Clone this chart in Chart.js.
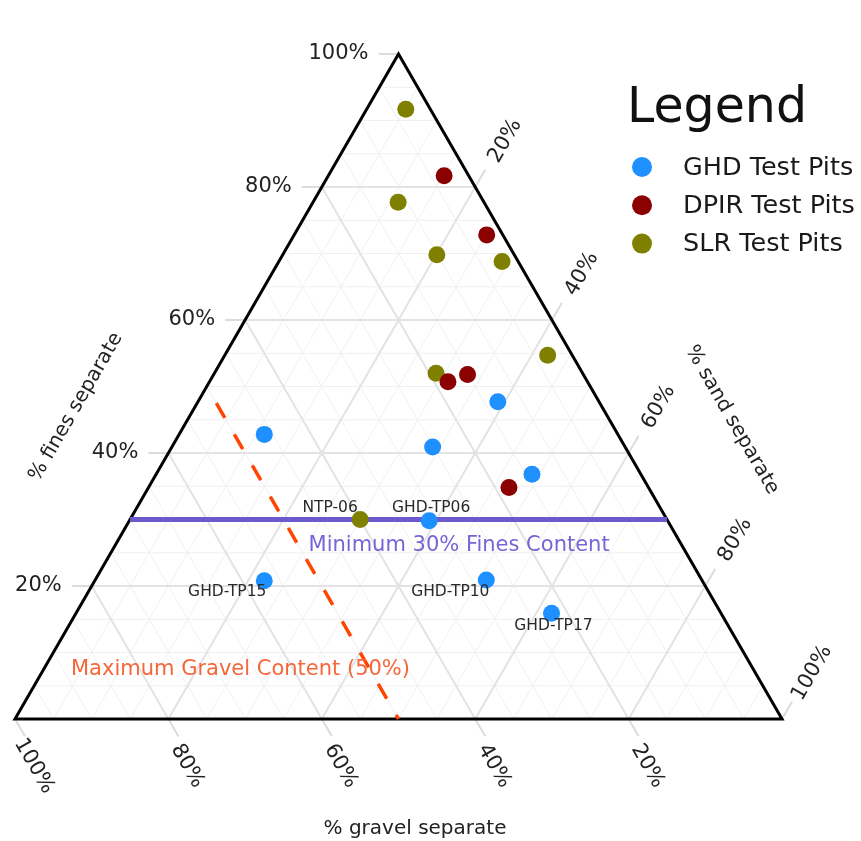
<!DOCTYPE html>
<html>
<head>
<meta charset="utf-8">
<script src="https://cdn.jsdelivr.net/npm/chart.js@4.4.1/dist/chart.umd.min.js"></script>
<style>
  html, body { margin: 0; padding: 0; background: #fff; }
  #c { display: block; }
</style>
</head>
<body>
<canvas id="c" width="861" height="841"></canvas>
<script>
// ternary values in percent (gravel + sand + fines = 100)
const ghdGravel = [46.1, 13.2, 25.1, 14.2, 31.1, 57.1, 28.1, 22.1];
const ghdSand   = [11.1, 39.1, 34.0, 49.0, 39.1, 22.1, 51.0, 62.0];
const ghdFines  = [42.8, 47.7, 40.9, 36.8, 29.8, 20.8, 20.9, 15.9];
const ghdNames  = ['', '', '', '', 'GHD-TP06', 'GHD-TP15', 'GHD-TP10', 'GHD-TP17'];

const dpirGravel = [3.2, 2.1, 18.2, 15.1, 18.2];
const dpirSand   = [15.1, 25.1, 31.1, 33.1, 47.0];
const dpirFines  = [81.7, 72.8, 50.7, 51.8, 34.8];
const dpirNames  = ['', '', '', '', ''];

const slrGravel = [3.2, 11.2, 10.1, 2.1, 3.2, 19.1, 40.0];
const slrSand   = [5.1, 11.1, 20.1, 29.1, 42.1, 28.9, 30.0];
const slrFines  = [91.7, 77.7, 69.8, 68.8, 54.7, 52.0, 30.0];
const slrNames  = ['', '', '', '', '', '', 'NTP-06'];

const tickValues = [20, 40, 60, 80, 100];
const minFines = 30;      // horizontal reference line
const maxGravel = 50;     // dashed reference line
const maxGravelTopFines = 47.5;

const COLORS = { GHD: '#1e90ff', DPIR: '#8b0000', SLR: '#808000' };

// sand/fines -> cartesian (x across the base, y = fines)
function toXY(sand, fines) {
  return { x: (sand + fines / 2) / 100, y: fines / 100 };
}

function series(sand, fines, names) {
  return sand.map((s, i) => ({ ...toXY(s, fines[i]), name: names[i] }));
}

const minFinesLine = [
  toXY(0, minFines),
  toXY(100 - minFines, minFines)
];
const maxGravelLine = [
  toXY(100 - maxGravel - maxGravelTopFines, maxGravelTopFines),
  toXY(100 - maxGravel, 0)
];

const labelOffsets = {
  'NTP-06':   [-30, -12],
  'GHD-TP06': [2, -13],
  'GHD-TP15': [-37, 11],
  'GHD-TP10': [-36, 12],
  'GHD-TP17': [2, 13]
};

const FONT = '"DejaVu Sans", Verdana, sans-serif';

const ternaryPlugin = {
  id: 'ternary',
  beforeDatasetsDraw(chart) {
    const { ctx, scales: { x, y } } = chart;
    const P = (s, f) => { const p = toXY(s, f); return [x.getPixelForValue(p.x), y.getPixelForValue(p.y)]; };
    const seg = (a, b) => { ctx.beginPath(); ctx.moveTo(a[0], a[1]); ctx.lineTo(b[0], b[1]); ctx.stroke(); };

    ctx.save();
    // minor first, major on top
    [false, true].forEach(major => {
      ctx.strokeStyle = major ? '#e3e3e3' : '#f0f0f0';
      ctx.lineWidth = major ? 2 : 1;
      for (let v = 5; v < 100; v += 5) {
        if ((v % 20 === 0) !== major) continue;
        seg(P(0, v), P(100 - v, v));          // fines
        seg(P(v, 0), P(v, 100 - v));          // sand
        seg(P(100 - v, 0), P(0, 100 - v));    // gravel
      }
    });

    // ticks outside the triangle
    ctx.strokeStyle = '#dcdcdc';
    ctx.lineWidth = 2;
    const L = 20;
    tickValues.forEach(v => {
      const f = P(0, v);
      seg(f, [f[0] - L, f[1]]);
      const s = P(v, 100 - v);
      seg(s, [s[0] + L * 0.5, s[1] - L * 0.866]);
      const g = P(100 - v, 0);
      seg(g, [g[0] + L * 0.5, g[1] + L * 0.866]);
    });

    // triangle outline
    ctx.strokeStyle = '#000';
    ctx.lineWidth = 3;
    ctx.lineJoin = 'miter';
    const a = P(0, 100), b = P(0, 0), c = P(100, 0);
    ctx.beginPath();
    ctx.moveTo(a[0], a[1]); ctx.lineTo(b[0], b[1]); ctx.lineTo(c[0], c[1]); ctx.closePath();
    ctx.stroke();
    ctx.restore();
  },
  afterDraw(chart) {
    const { ctx, scales: { x, y } } = chart;
    const P = (s, f) => { const p = toXY(s, f); return [x.getPixelForValue(p.x), y.getPixelForValue(p.y)]; };
    const rotText = (txt, cx, cy, ang) => {
      ctx.save(); ctx.translate(cx, cy); ctx.rotate(ang); ctx.fillText(txt, 0, 0); ctx.restore();
    };

    ctx.save();
    // tick labels
    ctx.fillStyle = '#222';
    ctx.font = '21px ' + FONT;
    ctx.textBaseline = 'middle';
    tickValues.forEach(v => {
      const f = P(0, v);
      ctx.textAlign = 'right';
      ctx.fillText(v + '%', f[0] - 30, f[1]);
      ctx.textAlign = 'center';
      const s = P(v, 100 - v);
      rotText(v + '%', s[0] + 30, s[1] - 46, -Math.PI / 3);
      const g = P(100 - v, 0);
      rotText(v + '%', g[0] + 19, g[1] + 47, Math.PI / 3);
    });

    // axis titles
    ctx.font = '20px ' + FONT;
    ctx.fillStyle = '#222';
    ctx.textAlign = 'center';
    rotText('% fines separate', 76, 407, -Math.PI / 3);
    rotText('% sand separate', 732, 420, Math.PI / 3);
    ctx.fillText('% gravel separate', 415, 829);

    // reference line captions
    ctx.font = '21px ' + FONT;
    ctx.fillStyle = '#7466d6';
    ctx.fillText('Minimum 30% Fines Content', x.getPixelForValue(0.579), y.getPixelForValue(minFines / 100) + 26);
    ctx.fillStyle = '#f5673a';
    ctx.fillText('Maximum Gravel Content (50%)', x.getPixelForValue(0.294), y.getPixelForValue(0.074));

    // point labels
    ctx.font = '15.5px ' + FONT;
    ctx.fillStyle = '#2a2a2a';
    chart.data.datasets.forEach((ds, di) => {
      if (!ds.isPoints) return;
      const meta = chart.getDatasetMeta(di);
      ds.data.forEach((d, i) => {
        if (!d.name) return;
        const el = meta.data[i];
        const off = labelOffsets[d.name] || [0, -14];
        ctx.fillText(d.name, el.x + off[0], el.y + off[1]);
      });
    });

    // legend
    ctx.fillStyle = '#111';
    ctx.textAlign = 'left';
    ctx.textBaseline = 'alphabetic';
    ctx.font = '49px ' + FONT;
    ctx.fillText('Legend', 627, 122);
    ctx.font = '25.5px ' + FONT;
    ctx.textBaseline = 'middle';
    const items = chart.data.datasets.filter(d => d.isPoints);
    items.forEach((ds, i) => {
      const cy = 167 + i * 38.3;
      ctx.beginPath();
      ctx.arc(642, cy, 10, 0, Math.PI * 2);
      ctx.fillStyle = ds.backgroundColor;
      ctx.fill();
      ctx.fillStyle = '#1a1a1a';
      ctx.fillText(ds.label, 683, cy + 1);
    });
    ctx.restore();
  }
};

function pointSet(label, color, sand, fines, names) {
  return {
    type: 'scatter',
    label,
    isPoints: true,
    data: series(sand, fines, names),
    backgroundColor: color,
    borderWidth: 0,
    pointRadius: 8.5,
    pointHoverRadius: 8.5,
    order: 0,
    clip: false
  };
}

new Chart(document.getElementById('c'), {
  type: 'scatter',
  data: {
    datasets: [
      pointSet('GHD Test Pits', COLORS.GHD, ghdSand, ghdFines, ghdNames),
      pointSet('DPIR Test Pits', COLORS.DPIR, dpirSand, dpirFines, dpirNames),
      pointSet('SLR Test Pits', COLORS.SLR, slrSand, slrFines, slrNames),
      {
        type: 'line', label: 'min fines', data: minFinesLine,
        borderColor: '#6a5acd', borderWidth: 5, pointRadius: 0, fill: false,
        order: 2, clip: false
      },
      {
        type: 'line', label: 'max gravel', data: maxGravelLine,
        borderColor: '#ff4500', borderWidth: 3.5, borderDash: [17, 19], pointRadius: 0, fill: false,
        order: 1, clip: false
      }
    ]
  },
  options: {
    responsive: false,
    devicePixelRatio: 1,
    animation: false,
    layout: { padding: { left: 15, right: 79, top: 54, bottom: 122 } },
    scales: {
      x: { type: 'linear', min: 0, max: 1, display: false },
      y: { type: 'linear', min: 0, max: 1, display: false }
    },
    plugins: {
      legend: { display: false },
      tooltip: { enabled: false }
    },
    events: []
  },
  plugins: [ternaryPlugin]
});
</script>
</body>
</html>
